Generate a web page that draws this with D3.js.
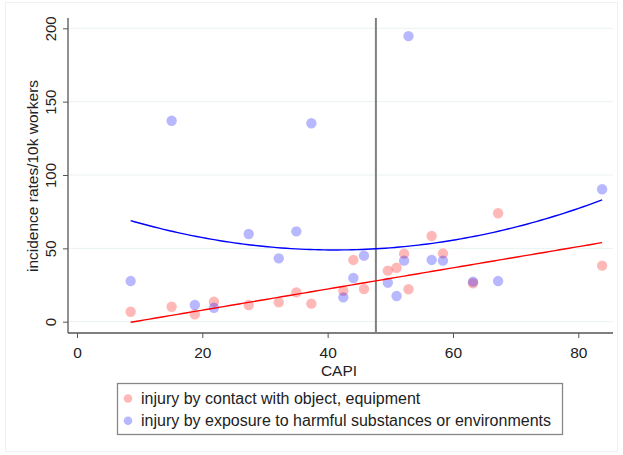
<!DOCTYPE html>
<html><head><meta charset="utf-8">
<script src="https://cdn.jsdelivr.net/npm/d3@7"></script>
<style>
body{margin:0;background:#fff;}
text{font-family:"Liberation Sans",Arial,sans-serif;fill:#222;}
</style></head>
<body><svg id="c" width="623" height="455"></svg>
<script>
// ---- data ----
const capi = [8.56, 15.1, 18.8, 21.85, 27.4, 32.2, 35.0, 37.4, 42.5, 44.1, 45.8, 49.6, 51.0, 52.2, 52.9, 56.6, 58.4, 63.2, 67.2, 83.8];
const contactRates = [6.8, 10.2, 5.0, 13.6, 11.4, 13.2, 20.0, 12.3, 21.1, 42.1, 22.3, 34.8, 36.8, 46.4, 22.1, 58.4, 46.6, 26.2, 73.9, 38.2];
const exposureRates = [27.7, 137, 11.4, 9.5, 59.8, 43.2, 61.6, 135.3, 16.6, 29.8, 45.0, 26.6, 17.5, 41.6, 194.7, 42.1, 41.6, 27.3, 27.7, 90.3];
// fitted-curve coefficients: y = c0 + c1*x + c2*x^2
const contactFit = [-6.58, 0.7217, 0];
const exposureFit = [80.76, -1.547, 0.01878];
const seriesNames = ["injury by contact with object, equipment", "injury by exposure to harmful substances or environments"];
const medianCapi = 47.7;
const xTicks = [0, 20, 40, 60, 80];
const yTicks = [0, 50, 100, 150, 200];
const axisTitles = {x: "CAPI", y: "incidence rates/10k workers"};

const svg = d3.select("#c");
// faint outer border
svg.append("rect").attr("x", 5.5).attr("y", 2.5).attr("width", 612).attr("height", 449)
  .attr("fill", "none").attr("stroke", "#f0f0f0");

const x = d3.scaleLinear().domain([0, 80]).range([77, 578.3]);
const y = d3.scaleLinear().domain([0, 200]).range([321.7, 28.3]);
const plotL = 68, plotR = 613, plotT = 18, plotB = 333;

// gridlines
svg.append("g").selectAll("line").data(yTicks).join("line")
  .attr("x1", plotL).attr("x2", plotR).attr("y1", d => y(d)).attr("y2", d => y(d))
  .attr("stroke", "#eaf2f2").attr("stroke-width", 1);

// y axis
const yAxis = d3.axisLeft(y).tickValues(yTicks).tickSize(5);
const gy = svg.append("g").attr("transform", `translate(${plotL},0)`).call(yAxis);
gy.select(".domain").remove();
gy.append("line").attr("x1", 0).attr("x2", 0).attr("y1", plotT).attr("y2", plotB).attr("stroke", "#555").attr("stroke-width", 1.3);
gy.selectAll(".tick line").attr("stroke", "#555");
gy.selectAll(".tick text")
  .attr("x", 0).attr("dy", null).attr("y", 0)
  .attr("transform", "translate(-12.5,0) rotate(-90)")
  .attr("text-anchor", "middle").attr("font-size", 15).attr("fill", "#222");

// x axis
const xAxis = d3.axisBottom(x).tickValues(xTicks).tickSize(5);
const gx = svg.append("g").attr("transform", `translate(0,${plotB})`).call(xAxis);
gx.select(".domain").remove();
gx.append("line").attr("x1", plotL).attr("x2", plotR).attr("y1", 0).attr("y2", 0).attr("stroke", "#555").attr("stroke-width", 1.3);
gx.selectAll(".tick line").attr("stroke", "#555");
gx.selectAll(".tick text").attr("dy", null).attr("y", 25).attr("font-size", 15.5).attr("fill", "#222");

// axis titles
svg.append("text").attr("x", 339).attr("y", 375.5).attr("text-anchor", "middle").attr("font-size", 15.5).text(axisTitles.x);
svg.append("text").attr("transform", "translate(38,176) rotate(-90)").attr("text-anchor", "middle").attr("font-size", 15.5).text(axisTitles.y);

// median line
svg.append("line").attr("x1", x(medianCapi)).attr("x2", x(medianCapi)).attr("y1", plotT).attr("y2", plotB)
  .attr("stroke", "#808080").attr("stroke-width", 2);

// points
const colors = ["#ff0000", "#0000ff"];
const series = [contactRates, exposureRates];
series.forEach((vals, si) => {
  svg.append("g").selectAll("circle").data(vals).join("circle")
    .attr("cx", (d, i) => x(capi[i])).attr("cy", d => y(d)).attr("r", 5.2)
    .attr("fill", colors[si]).attr("fill-opacity", 0.28);
});

// fit lines
const fits = [contactFit, exposureFit];
const xs = d3.range(0, 101).map(i => d3.min(capi) + (d3.max(capi) - d3.min(capi)) * i / 100);
fits.forEach((c, si) => {
  const f = v => c[0] + c[1] * v + c[2] * v * v;
  svg.append("path").datum(xs)
    .attr("d", d3.line().x(d => x(d)).y(d => y(f(d))))
    .attr("fill", "none").attr("stroke", colors[si]).attr("stroke-width", 1.4);
});

// legend
const lg = svg.append("g");
lg.append("rect").attr("x", 117.5).attr("y", 383.5).attr("width", 445).attr("height", 51)
  .attr("fill", "#fff").attr("stroke", "#888").attr("stroke-width", 1.3);
seriesNames.forEach((name, i) => {
  const yy = 398.5 + i * 22.3;
  lg.append("circle").attr("cx", 128).attr("cy", yy).attr("r", 4.3).attr("fill", colors[i]).attr("fill-opacity", 0.28);
  lg.append("text").attr("x", 141).attr("y", yy + 5.5).attr("font-size", 16).text(name);
});
</script></body></html>
